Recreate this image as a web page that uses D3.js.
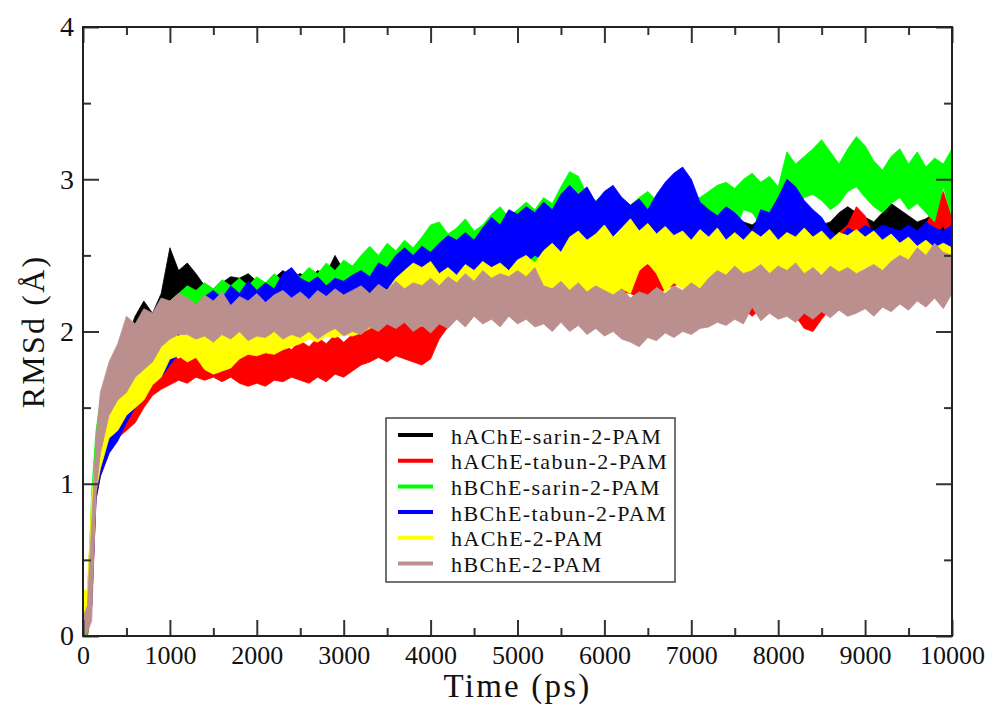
<!DOCTYPE html>
<html>
<head>
<meta charset="utf-8">
<script src="https://cdn.jsdelivr.net/npm/d3@7"></script>
<style>
  body { margin: 0; background: #fff; }
  .tick text { font-family: 'Liberation Serif', 'Times New Roman', serif; fill: #111; }
</style>
</head>
<body>
<svg id="chart"></svg>
<script>
// sample times (ps): a few early points, then every 100 ps
const times = [0, 50, 100, 150, ...d3.range(200, 10001, 100)];

const xTicks = [0, 1000, 2000, 3000, 4000, 5000, 6000, 7000, 8000, 9000, 10000];
const xMinorTicks = [500, 1500, 2500, 3500, 4500, 5500, 6500, 7500, 8500, 9500];
const yTicks = [0, 1, 2, 3, 4];
const yMinorTicks = [0.5, 1.5, 2.5, 3.5];

const seriesNames = ['hAChE-sarin-2-PAM', 'hAChE-tabun-2-PAM', 'hBChE-sarin-2-PAM',
  'hBChE-tabun-2-PAM', 'hAChE-2-PAM', 'hBChE-2-PAM'];
const seriesColors = ['#000000', '#ff0000', '#00ff00', '#0000ff', '#ffff00', '#bc8f8f'];

// RMSd envelopes (min / max of the fluctuating trace), in Å
const achSarinLo = [0, 0, 0.2, 0.95,
  1.15, 1.35, 1.5, 1.6, 1.75, 1.85, 1.9, 1.95, 2.05, 2.1,
  2.15, 2.1, 2.08, 2.05, 2.08, 2.05, 2.1, 2.07, 2.1, 2.08,
  2.1, 2.12, 2.1, 2.12, 2.1, 2.13, 2.15, 2.18, 2.15, 2.18,
  2.2, 2.18, 2.22, 2.2, 2.24, 2.22, 2.26, 2.25, 2.28, 2.26,
  2.3, 2.28, 2.32, 2.3, 2.33, 2.35, 2.34, 2.37, 2.36, 2.38,
  2.36, 2.4, 2.38, 2.42, 2.4, 2.43, 2.42, 2.44, 2.42, 2.45,
  2.43, 2.46, 2.45, 2.47, 2.45, 2.48, 2.46, 2.49, 2.47, 2.48,
  2.5, 2.48, 2.52, 2.5, 2.48, 2.5, 2.52, 2.5, 2.53, 2.55,
  2.56, 2.55, 2.52, 2.55, 2.56, 2.58, 2.6, 2.58, 2.6, 2.58,
  2.6, 2.62, 2.6, 2.58, 2.56, 2.55, 2.58, 2.55, 2.52];
const achSarinHi = [0.2, 0.25, 0.85, 1.25,
  1.5, 1.7, 1.85, 1.95, 2.1, 2.2, 2.12, 2.25, 2.55, 2.4,
  2.45, 2.38, 2.3, 2.28, 2.32, 2.36, 2.35, 2.38, 2.33, 2.3,
  2.35, 2.4, 2.36, 2.38, 2.35, 2.4, 2.38, 2.5, 2.4, 2.38,
  2.42, 2.4, 2.44, 2.42, 2.46, 2.44, 2.48, 2.46, 2.5, 2.48,
  2.52, 2.5, 2.54, 2.55, 2.58, 2.6, 2.58, 2.62, 2.6, 2.6,
  2.58, 2.62, 2.6, 2.62, 2.6, 2.64, 2.62, 2.65, 2.63, 2.66,
  2.64, 2.68, 2.65, 2.68, 2.66, 2.7, 2.67, 2.7, 2.68, 2.7,
  2.8, 2.7, 2.73, 2.75, 2.72, 2.7, 2.74, 2.72, 2.75, 2.73,
  2.72, 2.7, 2.68, 2.7, 2.72, 2.78, 2.82, 2.78, 2.75, 2.72,
  2.78, 2.84, 2.8, 2.76, 2.72, 2.74, 2.78, 2.72, 2.7];

const achTabunLo = [0, 0, 0.2, 0.9,
  1.05, 1.2, 1.3, 1.35, 1.4, 1.5, 1.58, 1.62, 1.65, 1.68,
  1.66, 1.7, 1.68, 1.7, 1.67, 1.7, 1.66, 1.64, 1.66, 1.64,
  1.68, 1.67, 1.7, 1.68, 1.66, 1.7, 1.67, 1.72, 1.7, 1.74,
  1.78, 1.8, 1.83, 1.8, 1.84, 1.82, 1.8, 1.78, 1.82, 1.95,
  2.03, 2.1, 2.08, 2.12, 2.1, 2.12, 2.1, 2.14, 2.12, 2.2,
  2.22, 2.2, 2.25, 2.22, 2.26, 2.24, 2.28, 2.25, 2.28, 2.3,
  2.26, 2.25, 2.22, 2.24, 2.22, 2.28, 2.3, 2.32, 2.3, 2.28,
  2.25, 2.22, 2.2, 2.18, 2.15, 2.1, 2.15, 2.2, 2.22, 2.18,
  2.1, 2.02, 2.0, 2.08, 2.15, 2.3, 2.5, 2.62, 2.6, 2.45,
  2.38, 2.42, 2.45, 2.5, 2.48, 2.52, 2.6, 2.7, 2.55];
const achTabunHi = [0.1, 0.15, 0.8, 1.15,
  1.35, 1.5, 1.55, 1.6, 1.65, 1.7, 1.78, 1.82, 1.85, 1.82,
  1.86, 1.84, 1.88, 1.86, 1.9, 1.88, 1.86, 1.9, 1.84, 1.88,
  1.86, 1.92, 1.88, 1.94, 1.9, 1.96, 1.92, 1.98, 1.93, 1.98,
  2.0, 2.04, 2.02, 2.06, 2.03, 2.07, 2.05, 2.03, 2.08, 2.1,
  2.14, 2.2, 2.25, 2.3, 2.35, 2.38, 2.42, 2.45, 2.5, 2.65,
  2.55, 2.5, 2.55, 2.5, 2.55, 2.5, 2.56, 2.52, 2.58, 2.55,
  2.5, 2.45, 2.42, 2.44, 2.4, 2.55, 2.62, 2.58, 2.55, 2.5,
  2.48, 2.45, 2.42, 2.4, 2.38, 2.35, 2.4, 2.45, 2.5, 2.48,
  2.4, 2.3, 2.35, 2.28, 2.42, 2.65, 2.7, 2.82, 2.76, 2.62,
  2.55, 2.6, 2.62, 2.68, 2.65, 2.7, 2.82, 2.92, 2.75];

const bchSarinLo = [0, 0, 0.3, 1.05,
  1.25, 1.45, 1.55, 1.65, 1.75, 1.8, 1.85, 1.9, 1.95, 2.0,
  2.05, 2.08, 2.1, 2.12, 2.1, 2.13, 2.1, 2.14, 2.12, 2.15,
  2.13, 2.16, 2.15, 2.18, 2.2, 2.18, 2.22, 2.2, 2.24, 2.22,
  2.26, 2.25, 2.28, 2.3, 2.3, 2.32, 2.35, 2.33, 2.36, 2.38,
  2.36, 2.4, 2.38, 2.42, 2.4, 2.44, 2.45, 2.43, 2.4, 2.48,
  2.45, 2.5, 2.48, 2.52, 2.5, 2.55, 2.52, 2.55, 2.53, 2.56,
  2.54, 2.58, 2.55, 2.6, 2.58, 2.6, 2.62, 2.6, 2.63, 2.6,
  2.65, 2.62, 2.67, 2.65, 2.8, 2.78, 2.7, 2.66, 2.68, 2.75,
  2.82, 2.88, 2.9, 2.86, 2.8, 2.84, 2.92, 2.95, 2.88, 2.82,
  2.78, 2.84, 2.88, 2.8, 2.84, 2.78, 2.72, 2.95, 2.75];
const bchSarinHi = [0.1, 0.18, 0.95, 1.35,
  1.55, 1.72, 1.85, 1.98, 1.95, 2.05, 2.07, 2.15, 2.2, 2.25,
  2.3, 2.27, 2.32, 2.28, 2.34, 2.3, 2.35, 2.3, 2.36, 2.32,
  2.38, 2.33, 2.4, 2.36, 2.42, 2.38, 2.45, 2.4, 2.47, 2.43,
  2.5, 2.56, 2.5, 2.58, 2.53, 2.6, 2.55, 2.62, 2.7, 2.72,
  2.64, 2.68, 2.74, 2.66, 2.7, 2.77, 2.82, 2.75, 2.8, 2.85,
  2.8, 2.88, 2.84, 2.95, 3.05, 3.02, 2.9, 2.86, 2.9, 2.85,
  2.88, 2.83, 2.88, 2.92, 2.86, 2.9, 2.85, 2.9, 2.87, 2.88,
  2.92, 2.96, 2.98, 2.94, 3.0, 3.04, 2.98, 3.02, 2.95, 3.18,
  3.1, 3.15, 3.2, 3.26, 3.18, 3.1, 3.2, 3.28, 3.22, 3.12,
  3.06, 3.15, 3.2, 3.1, 3.18, 3.08, 3.14, 3.1, 3.2];

const bchTabunLo = [0, 0.02, 0.2, 0.9,
  1.05, 1.2, 1.28, 1.4, 1.5, 1.6, 1.68, 1.7, 1.78, 1.85,
  1.88, 1.9, 1.92, 1.95, 1.93, 1.96, 1.95, 1.98, 1.97, 2.0,
  1.98, 2.03, 2.0, 2.04, 2.06, 2.02, 2.08, 2.05, 2.1, 2.08,
  2.12, 2.1, 2.15, 2.13, 2.18, 2.2, 2.22, 2.25, 2.28, 2.3,
  2.28, 2.32, 2.3, 2.35, 2.33, 2.36, 2.38, 2.4, 2.42, 2.45,
  2.5, 2.47, 2.52, 2.48, 2.55, 2.5, 2.56, 2.52, 2.55, 2.58,
  2.53, 2.57, 2.52, 2.56, 2.54, 2.6, 2.58, 2.62, 2.6, 2.56,
  2.52, 2.55, 2.5, 2.54, 2.56, 2.6, 2.55, 2.52, 2.35, 2.48,
  2.55, 2.5, 2.58, 2.55, 2.58, 2.6, 2.38, 2.58, 2.55, 2.58,
  2.36, 2.52, 2.56, 2.5, 2.53, 2.5, 2.52, 2.5, 2.55];
const bchTabunHi = [0.15, 0.2, 0.8, 1.15,
  1.35, 1.5, 1.6, 1.75, 1.85, 1.95, 2.0, 2.08, 2.12, 2.15,
  2.2, 2.18, 2.23, 2.27, 2.22, 2.3, 2.25, 2.33, 2.27, 2.32,
  2.28, 2.38, 2.42, 2.35, 2.32, 2.36, 2.3, 2.35, 2.33, 2.37,
  2.4, 2.36, 2.45, 2.42, 2.5, 2.55, 2.5, 2.56, 2.52, 2.58,
  2.63, 2.6, 2.65, 2.6, 2.68, 2.75, 2.7, 2.8, 2.77, 2.82,
  2.78, 2.85, 2.8, 2.9, 2.96, 2.9, 2.95, 2.85, 2.92, 2.96,
  2.88, 2.83, 2.87, 2.8, 2.9, 2.98, 3.04, 3.08, 3.0, 2.85,
  2.8, 2.76, 2.82, 2.78, 2.72, 2.66, 2.8, 2.78, 2.88, 3.0,
  2.95, 2.86, 2.8, 2.75, 2.66, 2.62, 2.68, 2.65, 2.7, 2.66,
  2.7, 2.68, 2.66, 2.7, 2.66, 2.72, 2.68, 2.66, 2.7];

const achLo = [0.05, 0.05, 0.3, 0.95,
  1.1, 1.3, 1.35, 1.45, 1.5, 1.55, 1.65, 1.7, 1.82, 1.84,
  1.8, 1.83, 1.75, 1.72, 1.74, 1.76, 1.82, 1.85, 1.84, 1.86,
  1.85, 1.88, 1.9, 1.92, 1.95, 1.93, 1.97, 1.96, 1.98, 1.97,
  1.99, 2.02, 2.05, 2.07, 2.05, 2.08, 2.1, 2.06, 2.1, 2.08,
  2.08, 2.1, 2.06, 2.1, 2.08, 2.12, 2.1, 2.15, 2.13, 2.18,
  2.2, 2.17, 2.22, 2.2, 2.25, 2.22, 2.27, 2.23, 2.26, 2.24,
  2.28, 2.25, 2.4, 2.45, 2.38, 2.26, 2.32, 2.28, 2.3, 2.27,
  2.32, 2.3, 2.35, 2.33, 2.38, 2.36, 2.4, 2.37, 2.4, 2.36,
  2.4, 2.38, 2.42, 2.38, 2.4, 2.37, 2.41, 2.38, 2.42, 2.39,
  2.36, 2.4, 2.35, 2.33, 2.36, 2.3, 2.34, 2.3, 2.35];
const achHi = [0.3, 0.3, 0.9, 1.2,
  1.45, 1.65, 1.75, 1.8, 1.85, 1.9, 1.85, 1.95, 2.0, 1.97,
  2.02, 1.95, 2.0, 1.96, 2.02, 1.95, 2.0, 1.97, 2.03, 1.98,
  2.05, 2.0, 2.06, 2.02, 2.08, 2.1, 2.12, 2.15, 2.18, 2.2,
  2.25, 2.22, 2.3, 2.27, 2.35, 2.4, 2.45, 2.42, 2.46, 2.38,
  2.42, 2.37, 2.44, 2.4, 2.46, 2.42, 2.45, 2.4, 2.47, 2.5,
  2.45, 2.53, 2.58, 2.52, 2.62, 2.66, 2.6, 2.64, 2.7, 2.62,
  2.68, 2.74, 2.66, 2.71, 2.64, 2.69, 2.63, 2.66, 2.6, 2.67,
  2.62, 2.68, 2.6, 2.65, 2.6, 2.66, 2.62, 2.67, 2.6, 2.65,
  2.62, 2.68, 2.62, 2.66, 2.6, 2.65, 2.63, 2.67, 2.62, 2.66,
  2.6, 2.64, 2.58, 2.62, 2.56, 2.6, 2.55, 2.58, 2.55];

const bchLo = [0, 0.02, 0.1, 0.95,
  1.2, 1.45, 1.55, 1.6, 1.7, 1.75, 1.8, 1.9, 1.95, 1.98,
  1.98, 1.95, 1.97, 1.93, 1.98, 1.95, 2.0, 1.94, 1.97, 1.96,
  2.0, 1.95, 1.98, 1.96, 2.0, 1.95, 1.99, 2.02, 1.97, 2.0,
  1.98, 2.03, 2.0, 2.05, 2.02, 2.06, 2.0, 2.04, 1.99, 2.05,
  2.02, 2.08, 2.03, 2.1, 2.05, 2.08, 2.03, 2.1, 2.05, 2.08,
  2.03, 2.05, 2.0, 2.06, 2.0, 2.04, 1.98, 2.02, 1.97, 2.0,
  1.95, 1.93, 1.9, 1.96, 1.94, 1.99, 1.96, 2.0, 1.98, 2.02,
  2.03, 2.06, 2.04, 2.08, 2.05, 2.16, 2.07, 2.12, 2.08, 2.1,
  2.06, 2.12, 2.08, 2.13, 2.09, 2.14, 2.1, 2.12, 2.15, 2.1,
  2.16, 2.13, 2.18, 2.14, 2.2, 2.16, 2.22, 2.15, 2.25];
const bchHi = [0.12, 0.2, 0.75, 1.3,
  1.6, 1.8, 1.92, 2.1, 2.05, 2.15, 2.12, 2.22, 2.2, 2.25,
  2.22, 2.18, 2.24, 2.2, 2.26, 2.17, 2.23, 2.2, 2.25, 2.19,
  2.24, 2.27, 2.22, 2.26, 2.21, 2.27, 2.23, 2.28, 2.24, 2.27,
  2.3, 2.25, 2.31, 2.27, 2.33, 2.28, 2.32, 2.3, 2.35, 2.3,
  2.36, 2.32, 2.38, 2.33, 2.4, 2.35, 2.38, 2.36, 2.4, 2.36,
  2.42, 2.3, 2.28, 2.33, 2.27, 2.32, 2.26, 2.3, 2.27, 2.24,
  2.28, 2.22, 2.26, 2.24, 2.29, 2.25, 2.3, 2.27, 2.32, 2.28,
  2.35, 2.4, 2.37, 2.43, 2.38, 2.4, 2.44, 2.38, 2.43, 2.4,
  2.45, 2.38, 2.42, 2.37, 2.43, 2.39, 2.42, 2.38, 2.41, 2.44,
  2.4, 2.46, 2.5, 2.47, 2.55, 2.5, 2.58, 2.52, 2.5];

const seriesLo = [achSarinLo, achTabunLo, bchSarinLo, bchTabunLo, achLo, bchLo];
const seriesHi = [achSarinHi, achTabunHi, bchSarinHi, bchTabunHi, achHi, bchHi];

const width = 987;
const height = 704;
const margin = { top: 27, right: 35, bottom: 68, left: 83 };
const plotW = width - margin.left - margin.right;
const plotH = height - margin.top - margin.bottom;

const svg = d3.select('#chart').attr('width', width).attr('height', height);
const g = svg.append('g').attr('transform', `translate(${margin.left}, ${margin.top})`);

const xScale = d3.scaleLinear().domain([0, 10000]).range([0, plotW]);
const yScale = d3.scaleLinear().domain([0, 4]).range([plotH, 0]);

// traces, first set at the bottom, last on top (as xmgrace draws them)
const area = d3
  .area()
  .x((d) => xScale(d.t))
  .y0((d) => yScale(d.lo))
  .y1((d) => yScale(d.hi));

const plot = g.append('g').attr('class', 'traces');
seriesNames.forEach((name, i) => {
  const pts = times.map((t, k) => ({ t, lo: seriesLo[i][k], hi: seriesHi[i][k] }));
  plot
    .append('path')
    .datum(pts)
    .attr('d', area)
    .attr('fill', seriesColors[i])
    .attr('stroke', seriesColors[i])
    .attr('stroke-width', 0.8)
    .attr('stroke-linejoin', 'round');
});

// axes: ticks point inward on all four sides
const fmt = d3.format('d');

const addAxis = (axis, transform, fontSize) => {
  const a = g.append('g').attr('transform', transform).call(axis);
  a.select('.domain').remove();
  a.selectAll('.tick line').attr('stroke', '#333').attr('stroke-width', 2);
  a.selectAll('.tick text').attr('font-size', fontSize);
  return a;
};

addAxis(d3.axisBottom(xScale).tickValues(xTicks).tickFormat(fmt).tickSize(-16).tickPadding(10), `translate(0, ${plotH})`, 26);
addAxis(d3.axisBottom(xScale).tickValues(xMinorTicks).tickSize(-8).tickFormat(''), `translate(0, ${plotH})`, 0);
addAxis(d3.axisTop(xScale).tickValues(xTicks).tickSize(-16).tickFormat(''), 'translate(0, 0)', 0);
addAxis(d3.axisTop(xScale).tickValues(xMinorTicks).tickSize(-8).tickFormat(''), 'translate(0, 0)', 0);
addAxis(d3.axisLeft(yScale).tickValues(yTicks).tickFormat(fmt).tickSize(-16).tickPadding(9), 'translate(0, 0)', 28);
addAxis(d3.axisLeft(yScale).tickValues(yMinorTicks).tickSize(-8).tickFormat(''), 'translate(0, 0)', 0);
addAxis(d3.axisRight(yScale).tickValues(yTicks).tickSize(-16).tickFormat(''), `translate(${plotW}, 0)`, 0);
addAxis(d3.axisRight(yScale).tickValues(yMinorTicks).tickSize(-8).tickFormat(''), `translate(${plotW}, 0)`, 0);

g.append('rect')
  .attr('width', plotW)
  .attr('height', plotH)
  .attr('fill', 'none')
  .attr('stroke', '#222')
  .attr('stroke-width', 2);

// axis titles
svg
  .append('text')
  .attr('x', margin.left + plotW / 2)
  .attr('y', 697)
  .attr('text-anchor', 'middle')
  .attr('font-family', "'Liberation Serif', serif")
  .attr('font-size', 33)
  .attr('letter-spacing', 2.2)
  .attr('fill', '#111')
  .text('Time (ps)');

svg
  .append('text')
  .attr('transform', `translate(44, ${margin.top + yScale(2)}) rotate(-90)`)
  .attr('text-anchor', 'middle')
  .attr('font-family', "'Liberation Serif', serif")
  .attr('font-size', 32)
  .attr('letter-spacing', 2.2)
  .attr('fill', '#111')
  .text('RMSd (Å)');

// legend
const legend = svg.append('g').attr('class', 'legend').attr('transform', 'translate(386, 418)');
legend
  .append('rect')
  .attr('width', 289)
  .attr('height', 164)
  .attr('fill', '#fff')
  .attr('stroke', '#444')
  .attr('stroke-width', 1.5);

seriesNames.forEach((name, i) => {
  const row = legend.append('g').attr('transform', `translate(0, ${17 + i * 25.7})`);
  row
    .append('line')
    .attr('x1', 12)
    .attr('x2', 47)
    .attr('stroke', seriesColors[i])
    .attr('stroke-width', 4);
  row
    .append('text')
    .attr('x', 65)
    .attr('y', 1)
    .attr('dominant-baseline', 'central')
    .attr('font-family', "'Liberation Serif', serif")
    .attr('font-size', 22)
    .attr('letter-spacing', 1.4)
    .attr('fill', '#111')
    .text(name);
});
</script>
</body>
</html>
